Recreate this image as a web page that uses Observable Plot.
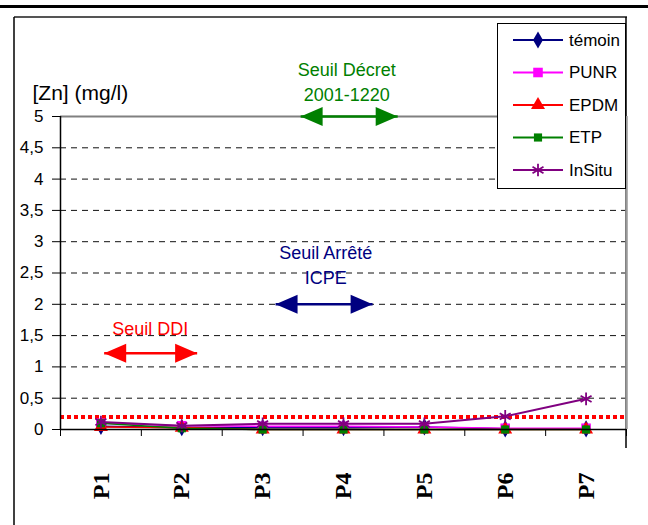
<!DOCTYPE html>
<html>
<head>
<meta charset="utf-8">
<script src="https://cdn.jsdelivr.net/npm/d3@7"></script>
<script src="https://cdn.jsdelivr.net/npm/@observablehq/plot@0.6"></script>
<style>
  html, body { margin: 0; padding: 0; background: white; }
  #chart { position: absolute; left: 0; top: 0; width: 648px; height: 525px; }
</style>
</head>
<body>
<div id="chart"></div>
<script>
// ---- data ----
const categories = ["P1", "P2", "P3", "P4", "P5", "P6", "P7"];
const temoin = [0.05, 0.03, 0.03, 0.03, 0.04, 0.01, 0.01];
const punr   = [0.10, 0.06, 0.05, 0.05, 0.04, 0.02, 0.02];
const epdm   = [0.04, 0.03, 0.00, 0.00, 0.00, 0.00, 0.00];
const etp    = [0.10, 0.02, 0.00, 0.00, 0.00, 0.00, 0.00];
const insitu = [0.12, 0.06, 0.09, 0.09, 0.09, 0.21, 0.49];
const seriesNames = ["témoin", "PUNR", "EPDM", "ETP", "InSitu"];
const yTicks = [0, 0.5, 1, 1.5, 2, 2.5, 3, 3.5, 4, 4.5, 5];
const yLabel = "[Zn] (mg/l)";
const seuilDDI = 0.2;
// threshold annotations (data units: x = category position, y = mg/l)
const annotLabels = ["Seuil Décret\n2001-1220", "Seuil Arrêté\nICPE", "Seuil DDI"];
const annotTextX = [4.04, 3.78, 1.61];
const annotTextY = [5.57, 2.65, 1.63];
const arrowFrom = [3.47, 3.16, 1.04];
const arrowTo   = [4.67, 4.36, 2.19];
const arrowY    = [5, 2, 1.22];

// ---- styles ----
const seriesValues = [temoin, punr, epdm, etp, insitu];
const seriesColors = ["#000080", "#FF00FF", "#FF0000", "#008000", "#800080"];
const seriesSymbols = ["diamond", "square", "triangle", "square", "asterisk"];
const seriesR = [5.2, 5.4, 5.2, 4.6, 6];
const annotColors = ["#008000", "#000080", "#FF0000"];

const xPos = categories.map((_, i) => i + 1);
const boundaries = [0.5, 1.5, 2.5, 3.5, 4.5, 5.5, 6.5, 7.5];
const annots = annotLabels.map((label, i) => ({
  label, tx: annotTextX[i], ty: annotTextY[i], x1: arrowFrom[i], x2: arrowTo[i], y: arrowY[i], color: annotColors[i]
}));

const rightHead = { draw(ctx) { ctx.moveTo(0, 0); ctx.lineTo(-22, -9.5); ctx.lineTo(-22, 9.5); ctx.closePath(); } };
const leftHead  = { draw(ctx) { ctx.moveTo(0, 0); ctx.lineTo(22, -9.5); ctx.lineTo(22, 9.5); ctx.closePath(); } };

const seriesMarks = [];
seriesValues.forEach((vals, s) => {
  const pts = vals.map((v, i) => ({ x: xPos[i], y: v }));
  seriesMarks.push(Plot.line(pts, { x: "x", y: "y", stroke: seriesColors[s], strokeWidth: s === 4 ? 2 : 1.6 }));
  if (seriesSymbols[s] === "asterisk") {
    seriesMarks.push(Plot.dot(pts, { x: "x", y: "y", symbol: "asterisk", r: seriesR[s], stroke: seriesColors[s], strokeWidth: 1.8, fill: "none" }));
  } else {
    seriesMarks.push(Plot.dot(pts, { x: "x", y: "y", symbol: seriesSymbols[s], r: seriesR[s], fill: seriesColors[s], stroke: "none" }));
  }
});

const plot = Plot.plot({
  width: 648,
  height: 525,
  marginLeft: 60,
  marginRight: 22,
  marginTop: 116,
  marginBottom: 96,
  x: { domain: [0.5, 7.5] },
  y: { domain: [0, 5] },
  style: { fontFamily: "'Liberation Sans', Arial, sans-serif", background: "transparent", overflow: "visible", color: "black" },
  marks: [
    Plot.ruleY(yTicks.filter(d => d > 0 && d < 5), { stroke: "#111", strokeWidth: 1, strokeDasharray: "6,5" }),
    Plot.ruleY([5], { stroke: "#808080", strokeWidth: 2 }),
    Plot.ruleX([7.5], { stroke: "#999", strokeWidth: 2.5 }),
    Plot.ruleY([seuilDDI], { stroke: "#FF0000", strokeWidth: 4, strokeDasharray: "4,3" }),
    ...seriesMarks,
    Plot.ruleY([0], { stroke: "black", strokeWidth: 1.5 }),
    Plot.ruleX([0.5], { stroke: "black", strokeWidth: 1.5 }),
    Plot.axisY({ ticks: yTicks, tickSize: 8, tickPadding: 9, tickFormat: d => String(d).replace(".", ","), fontSize: 17, label: null, stroke: "black" }),
    Plot.axisX({ ticks: boundaries, tickSize: 7, tickFormat: () => "", label: null }),
    Plot.axisX({ ticks: xPos, tickSize: 0, tickPadding: 43, tickRotate: -90, tickFormat: d => categories[d - 1],
      fontSize: 24, fontWeight: "bold", fontFamily: "'Liberation Serif', 'Times New Roman', serif", label: null }),
    // threshold arrows
    Plot.link(annots, { x1: "x1", x2: "x2", y1: "y", y2: "y", stroke: "color", strokeWidth: 2.5 }),
    Plot.dot(annots, { x: "x1", y: "y", symbol: leftHead, fill: "color", stroke: "none", r: 5 }),
    Plot.dot(annots, { x: "x2", y: "y", symbol: rightHead, fill: "color", stroke: "none", r: 5 }),
    Plot.text(annots, { x: "tx", y: "ty", text: "label", fill: "color", fontSize: 18, lineHeight: 1.39 }),
    Plot.text([yLabel], { frameAnchor: "top-left", dx: -28, dy: -31, textAnchor: "start", fontSize: 21, fill: "black" })
  ]
});

const svg = d3.select(plot);
// page decorations: top rule and chart frame
const deco = svg.insert("g", ":first-child");
deco.append("rect").attr("x", 0).attr("y", 5).attr("width", 648).attr("height", 3).attr("fill", "black");
deco.append("line").attr("x1", 14).attr("x2", 627).attr("y1", 17).attr("y2", 17).attr("stroke", "#555").attr("stroke-width", 2);
deco.append("line").attr("x1", 14).attr("x2", 14).attr("y1", 17).attr("y2", 525).attr("stroke", "black").attr("stroke-width", 1.5);
deco.append("line").attr("x1", 626).attr("x2", 626).attr("y1", 17).attr("y2", 448).attr("stroke", "black").attr("stroke-width", 1.5);

// legend
const lg = svg.append("g").attr("font-family", "'Liberation Sans', Arial, sans-serif").attr("font-size", 17).attr("text-anchor", "start");
lg.append("rect").attr("x", 497.5).attr("y", 23.5).attr("width", 128).attr("height", 165)
  .attr("fill", "white").attr("stroke", "black").attr("stroke-width", 1);
const symMap = { diamond: d3.symbolDiamond, square: d3.symbolSquare, triangle: d3.symbolTriangle, asterisk: d3.symbolAsterisk };
seriesNames.forEach((name, s) => {
  const yy = 40 + s * 32.5;
  lg.append("line").attr("x1", 513).attr("x2", 563).attr("y1", yy).attr("y2", yy)
    .attr("stroke", seriesColors[s]).attr("stroke-width", 1.8);
  const size = Math.PI * seriesR[s] * seriesR[s];
  const p = lg.append("path").attr("transform", `translate(538,${yy})`)
    .attr("d", d3.symbol(symMap[seriesSymbols[s]], size)());
  if (seriesSymbols[s] === "asterisk") p.attr("fill", "none").attr("stroke", seriesColors[s]).attr("stroke-width", 1.8);
  else p.attr("fill", seriesColors[s]);
  lg.append("text").attr("x", 569).attr("y", yy).attr("dy", "0.35em").attr("text-anchor", "start").attr("fill", "black").text(name);
});

document.getElementById("chart").appendChild(plot);
</script>
</body>
</html>
